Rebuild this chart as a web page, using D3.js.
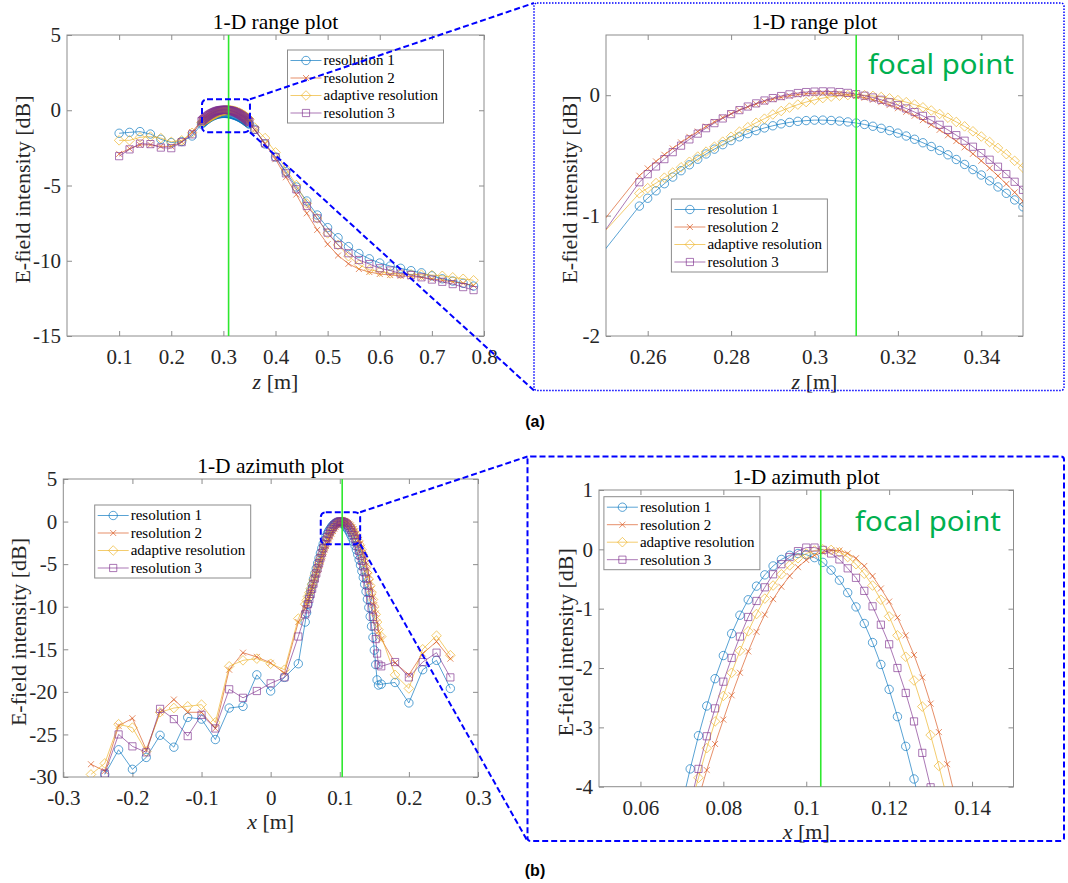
<!DOCTYPE html>
<html>
<head>
<meta charset="utf-8">
<script src="https://cdn.jsdelivr.net/npm/d3@7"></script>
<style>
  body { margin: 0; background: #fff; }
</style>
</head>
<body>
<div id="chart"></div>
<script>
const W = 1068, H = 883;

// ---- data: 1-D range plot (z in m, intensity in dB) ----
const rangeZ = [0.10,0.12,0.14,0.16,0.18,0.20,0.22,0.24,
  0.258,0.260,0.262,0.264,0.266,0.268,0.270,0.272,0.274,0.276,0.278,0.280,0.282,0.284,0.286,0.288,0.290,0.292,0.294,0.296,0.298,0.300,
  0.302,0.304,0.306,0.308,0.310,0.312,0.314,0.316,0.318,0.320,0.322,0.324,0.326,0.328,0.330,0.332,0.334,0.336,0.338,0.340,0.342,0.344,0.346,0.348,0.350,
  0.36,0.38,0.40,0.42,0.44,0.46,0.48,0.50,0.52,0.54,0.56,0.58,0.60,0.62,0.64,0.66,0.68,0.70,0.72,0.74,0.76,0.78];

const rangeRes1 = [-1.53,-1.47,-1.42,-1.58,-1.93,-2.15,-2.08,-1.71,
  -0.921,-0.856,-0.794,-0.735,-0.680,-0.627,-0.578,-0.532,-0.488,-0.448,-0.411,-0.377,-0.346,-0.319,-0.294,-0.272,-0.254,-0.238,-0.226,-0.217,-0.211,-0.207,
  -0.207,-0.210,-0.215,-0.222,-0.231,-0.243,-0.258,-0.275,-0.294,-0.315,-0.339,-0.366,-0.395,-0.426,-0.459,-0.495,-0.534,-0.575,-0.618,-0.663,-0.711,-0.762,-0.815,-0.870,-0.927,
  -1.27,-2.24,-3.1,-4.08,-5.1,-6.03,-6.96,-7.8,-8.47,-9.06,-9.52,-9.87,-10.15,-10.35,-10.5,-10.66,-10.8,-11.0,-11.2,-11.35,-11.5,-11.68];

const rangeRes2 = [-2.9,-2.55,-2.3,-2.3,-2.4,-2.4,-2.1,-1.45,
  -0.669,-0.608,-0.550,-0.495,-0.442,-0.392,-0.346,-0.302,-0.260,-0.222,-0.186,-0.154,-0.124,-0.097,-0.073,-0.052,-0.033,-0.018,-0.005,0.005,0.012,0.017,
  0.018,0.016,0.012,0.004,-0.007,-0.021,-0.038,-0.058,-0.082,-0.108,-0.138,-0.171,-0.207,-0.246,-0.288,-0.333,-0.381,-0.433,-0.487,-0.545,-0.606,-0.670,-0.737,-0.807,-0.881,
  -1.3,-2.25,-3.25,-4.45,-5.6,-6.85,-7.95,-8.9,-9.65,-10.2,-10.55,-10.75,-10.88,-10.95,-11.0,-11.05,-11.1,-11.2,-11.3,-11.4,-11.5,-11.65];

const rangeAdaptive = [-2.0,-2.0,-1.8,-1.75,-1.85,-2.1,-2.0,-1.5,
  -0.815,-0.772,-0.730,-0.685,-0.643,-0.599,-0.553,-0.510,-0.469,-0.428,-0.386,-0.345,-0.303,-0.266,-0.229,-0.195,-0.160,-0.131,-0.103,-0.078,-0.057,-0.039,
  -0.024,-0.012,-0.004,0.001,0.003,0.000,-0.006,-0.015,-0.026,-0.041,-0.058,-0.078,-0.101,-0.127,-0.156,-0.187,-0.222,-0.259,-0.300,-0.343,-0.389,-0.438,-0.490,-0.545,-0.602,
  -1.15,-1.85,-2.8,-3.9,-4.97,-6.19,-7.18,-8.18,-8.95,-9.7,-10.25,-10.6,-10.72,-10.84,-10.88,-10.9,-10.93,-10.95,-11.0,-11.1,-11.2,-11.3];

const rangeRes3 = [-3.05,-2.6,-2.22,-2.25,-2.48,-2.52,-2.12,-1.6,
  -0.723,-0.656,-0.592,-0.531,-0.473,-0.419,-0.367,-0.319,-0.274,-0.232,-0.193,-0.157,-0.124,-0.094,-0.068,-0.044,-0.024,-0.007,0.007,0.018,0.026,0.030,
  0.032,0.031,0.026,0.019,0.009,-0.004,-0.019,-0.038,-0.059,-0.083,-0.110,-0.140,-0.172,-0.208,-0.246,-0.288,-0.332,-0.378,-0.428,-0.481,-0.536,-0.594,-0.655,-0.719,-0.786,
  -1.3,-2.2,-3.12,-4.19,-5.25,-6.36,-7.18,-8.13,-8.95,-9.5,-9.95,-10.22,-10.5,-10.65,-10.85,-10.95,-11.1,-11.25,-11.4,-11.55,-11.75,-11.95];

// ---- data: 1-D azimuth plot (x in m, intensity in dB) ----
const azimX = [-0.26,-0.24,-0.22,-0.20,-0.18,-0.16,-0.14,-0.12,-0.10,-0.08,-0.06,-0.04,-0.02,0,0.02,0.04,
  0.050,0.052,0.054,0.056,0.058,0.060,0.062,0.064,0.066,0.068,0.070,0.072,0.074,0.076,0.078,0.080,0.082,0.084,0.086,0.088,0.090,0.092,0.094,0.096,0.098,0.100,0.102,
  0.104,0.106,0.108,0.110,0.112,0.114,0.116,0.118,0.120,0.122,0.124,0.126,0.128,0.130,0.132,0.134,0.136,0.138,0.140,0.142,0.144,0.146,0.148,0.150,0.152,0.154,0.156,
  0.16,0.18,0.20,0.22,0.24,0.26];

const azimRes1 = [null,-29.7,-26.8,-29.1,-27.7,-25.1,-26.5,-23.0,-23.2,-25.6,-21.9,-21.7,-18.0,-19.9,-18.3,-16.7,
  -11.8,-10.7,-9.7,-8.85,-8.1,-7.4,-6.75,-6.1,-5.5,-4.9,-4.3,-3.70,-3.14,-2.64,-2.18,-1.79,-1.42,-1.11,-0.85,-0.62,-0.43,-0.28,-0.17,-0.10,-0.07,-0.09,-0.14,
  -0.22,-0.35,-0.52,-0.73,-0.97,-1.25,-1.57,-1.94,-2.36,-2.82,-3.32,-3.87,-4.47,-5.12,-5.82,-6.57,-7.37,-8.22,-9.12,-10.1,-11.15,-12.3,-13.6,-15.1,-16.8,-18.6,-19.2,
  -19.1,-18.9,-21.3,-17.4,-16.3,-19.6];

const azimRes2 = [-28.5,-29.3,-24.0,-23.1,-26.8,-22.4,-20.9,-22.4,-22.4,-24.3,-17.4,-15.4,-15.9,-16.6,-17.8,-11.8,
  -10.2,-9.7,-9.2,-8.7,-8.2,-7.7,-7.2,-6.7,-6.2,-5.7,-5.2,-4.7,-4.2,-3.72,-3.28,-2.87,-2.46,-2.08,-1.72,-1.39,-1.10,-0.84,-0.63,-0.45,-0.30,-0.18,-0.10,
  -0.05,-0.02,-0.02,-0.07,-0.15,-0.28,-0.45,-0.66,-0.88,-1.15,-1.45,-1.78,-2.16,-2.60,-3.08,-3.62,-4.2,-4.85,-5.55,-6.3,-7.1,-7.95,-8.85,-9.8,-10.8,-11.85,-12.9,
  -13.8,-16.6,-18.0,-15.5,-14.1,-16.1];

const azimAdaptive = [-29.7,-28.4,-23.8,-24.2,-27.0,-22.4,-21.9,-21.7,-21.5,-23.6,-17.0,-16.3,-16.1,-16.7,-17.4,-11.4,
  -9.7,-9.25,-8.8,-8.35,-7.85,-7.35,-6.85,-6.35,-5.85,-5.35,-4.85,-4.35,-3.85,-3.35,-2.90,-2.47,-2.08,-1.71,-1.38,-1.09,-0.83,-0.61,-0.42,-0.27,-0.15,-0.07,-0.02,
  0.00,-0.01,-0.05,-0.13,-0.25,-0.41,-0.61,-0.85,-1.13,-1.45,-1.81,-2.21,-2.65,-3.13,-3.65,-4.2,-4.78,-5.4,-6.05,-6.75,-7.5,-8.3,-9.15,-10.0,-10.9,-11.8,-12.7,
  -13.5,-18.0,-19.6,-15.0,-13.4,-15.7];

const azimRes3 = [null,-29.6,-25.0,-26.4,-27.1,-22.0,-23.2,-25.2,-22.7,-24.3,-19.7,-20.7,-19.9,-19.0,-18.3,-13.5,
  -10.9,-10.3,-9.7,-9.1,-8.5,-7.9,-7.3,-6.7,-6.1,-5.5,-4.9,-4.3,-3.70,-3.15,-2.68,-2.23,-1.83,-1.47,-1.14,-0.87,-0.64,-0.42,-0.25,-0.13,-0.03,0.03,0.03,
  -0.01,-0.07,-0.17,-0.32,-0.48,-0.70,-0.96,-1.27,-1.60,-2.00,-2.42,-2.90,-3.43,-4.01,-4.62,-5.27,-5.96,-6.7,-7.5,-8.35,-9.25,-10.2,-11.2,-12.3,-13.8,-15.5,-16.8,
  -17.0,-16.5,-18.3,-16.5,-15.4,-18.3];

const seriesNames = ["resolution 1", "resolution 2", "adaptive resolution", "resolution 3"];
const seriesColors = ["#0072BD", "#D95319", "#EDB120", "#7E2F8E"];
const seriesMarkers = ["circle", "x", "diamond", "square"];

// tick labels
const rangeTicksX = [0.1,0.2,0.3,0.4,0.5,0.6,0.7,0.8];
const rangeTicksY = [-15,-10,-5,0,5];
const rangeZoomTicksX = [0.26,0.28,0.3,0.32,0.34];
const rangeZoomTicksY = [-2,-1,0];
const azimTicksX = [-0.3,-0.2,-0.1,0,0.1,0.2,0.3];
const azimTicksY = [-30,-25,-20,-15,-10,-5,0,5];
const azimZoomTicksX = [0.06,0.08,0.1,0.12,0.14];
const azimZoomTicksY = [-4,-3,-2,-1,0,1];

const rangeFocal = 0.31;
const azimFocal = 0.1035;

const serif = "'Liberation Serif', 'Times New Roman', serif";
const boxColor = "#8c8c8c";
const textColor = "#262626";
const blue = "#0000ff";

const svg = d3.select("#chart").append("svg")
  .attr("width", W).attr("height", H)
  .style("display", "block")
  .style("background", "#fff");

// marker path centred on (x, y)
function markerPath(type, x, y) {
  if (type === "circle") {
    const r = 4.2;
    return `M${x - r},${y}a${r},${r} 0 1,0 ${2 * r},0a${r},${r} 0 1,0 ${-2 * r},0Z`;
  }
  if (type === "x") {
    const s = 3;
    return `M${x - s},${y - s}L${x + s},${y + s}M${x - s},${y + s}L${x + s},${y - s}`;
  }
  if (type === "diamond") {
    const s = 4.8;
    return `M${x},${y - s}L${x + s},${y}L${x},${y + s}L${x - s},${y}Z`;
  }
  const s = 3.6;
  return `M${x - s},${y - s}h${2 * s}v${2 * s}h${-2 * s}Z`;
}

function styleAxis(sel) {
  sel.attr("font-family", null).attr("font-size", null)
    .style("font-family", serif).style("font-size", "21px");
  sel.select(".domain").remove();
  sel.selectAll(".tick line").attr("stroke", boxColor);
  sel.selectAll("text")
    .attr("fill", textColor)
    .style("font-family", serif)
    .style("font-size", "21px");
}

function drawPanel(p) {
  const x = d3.scaleLinear().domain(p.xDomain).range([p.left, p.right]);
  const y = d3.scaleLinear().domain(p.yDomain).range([p.bottom, p.top]);
  const g = svg.append("g");

  g.append("clipPath").attr("id", "clip-" + p.id)
    .append("rect")
    .attr("x", p.left).attr("y", p.top)
    .attr("width", p.right - p.left).attr("height", p.bottom - p.top);

  // axes, ticks pointing inward on all four sides
  g.append("g").attr("transform", `translate(0,${p.bottom})`)
    .call(d3.axisBottom(x).tickValues(p.xTicks).tickSize(-5).tickPadding(13).tickFormat(d => String(d)))
    .call(styleAxis);
  g.append("g").attr("transform", `translate(0,${p.top})`)
    .call(d3.axisTop(x).tickValues(p.xTicks).tickSize(-5).tickFormat(""))
    .call(styleAxis);
  g.append("g").attr("transform", `translate(${p.left},0)`)
    .call(d3.axisLeft(y).tickValues(p.yTicks).tickSize(-5).tickPadding(6).tickFormat(d => String(d)))
    .call(styleAxis);
  g.append("g").attr("transform", `translate(${p.right},0)`)
    .call(d3.axisRight(y).tickValues(p.yTicks).tickSize(-5).tickFormat(""))
    .call(styleAxis);

  g.append("rect")
    .attr("x", p.left).attr("y", p.top)
    .attr("width", p.right - p.left).attr("height", p.bottom - p.top)
    .attr("fill", "none").attr("stroke", boxColor).attr("stroke-width", 1);

  // data
  const plot = g.append("g").attr("clip-path", `url(#clip-${p.id})`);
  const line = d3.line().x(d => x(d[0])).y(d => y(d[1]));
  p.series.forEach((vals, si) => {
    const pts = p.xs.map((v, i) => [v, vals[i]]).filter(d => d[1] !== null);
    const col = seriesColors[si];
    plot.append("path")
      .attr("d", line(pts))
      .attr("fill", "none")
      .attr("stroke", col).attr("stroke-opacity", 0.65)
      .attr("stroke-width", 1);
    plot.append("path")
      .attr("d", pts.map(d => markerPath(seriesMarkers[si], x(d[0]), y(d[1]))).join(""))
      .attr("fill", "none")
      .attr("stroke", col).attr("stroke-opacity", 0.65)
      .attr("stroke-width", 1);
  });

  // focal line
  plot.append("line")
    .attr("x1", x(p.focal)).attr("x2", x(p.focal))
    .attr("y1", p.top).attr("y2", p.bottom)
    .attr("stroke", "#2ee82e").attr("stroke-width", 1.6);

  // title and labels
  g.append("text")
    .attr("x", (p.left + p.right) / 2).attr("y", p.top - 14)
    .attr("dy", "0.35em")
    .attr("text-anchor", "middle")
    .style("font-family", serif).style("font-size", "21.5px").attr("fill", "#000")
    .text(p.title);

  const xl = g.append("text")
    .attr("x", (p.left + p.right) / 2).attr("y", p.xLabelY)
    .attr("dy", "0.35em")
    .attr("text-anchor", "middle")
    .style("font-family", serif).style("font-size", "22px").attr("fill", textColor);
  xl.append("tspan").attr("font-style", "italic").text(p.xLabel);
  xl.append("tspan").text(" [m]");

  g.append("text")
    .attr("transform", `translate(${p.yLabelX},${(p.top + p.bottom) / 2 + 4}) rotate(-90)`)
    .attr("dy", "0.35em")
    .attr("text-anchor", "middle")
    .style("font-family", serif).style("font-size", "22px").attr("fill", textColor)
    .text("E-field intensity [dB]");

  // legend
  const lg = g.append("g").attr("transform", `translate(${p.legend[0]},${p.legend[1]})`);
  lg.append("rect")
    .attr("width", 156).attr("height", 73)
    .attr("fill", "#fff").attr("stroke", boxColor).attr("stroke-width", 1);
  seriesNames.forEach((name, i) => {
    const ry = 10.5 + i * 17.5;
    lg.append("line")
      .attr("x1", 3).attr("x2", 34).attr("y1", ry).attr("y2", ry)
      .attr("stroke", seriesColors[i]).attr("stroke-opacity", 0.65);
    lg.append("path")
      .attr("d", markerPath(seriesMarkers[i], 18.5, ry))
      .attr("fill", "none")
      .attr("stroke", seriesColors[i]).attr("stroke-opacity", 0.65);
    lg.append("text")
      .attr("x", 36).attr("y", ry).attr("dy", "0.33em")
      .style("font-family", serif).style("font-size", "15px").attr("fill", "#000")
      .text(name);
  });

  if (p.focalText) {
    g.append("text")
      .attr("x", p.focalText[0]).attr("y", p.focalText[1])
      .style("font-family", "'Noto Sans', sans-serif").style("font-size", "28px")
      .attr("fill", "#00b050")
      .attr("textLength", 146).attr("lengthAdjust", "spacingAndGlyphs")
      .text("focal point");
  }

  return { x, y };
}

const rangeMain = drawPanel({
  id: "range", left: 67, right: 484, top: 35, bottom: 336,
  xDomain: [0, 0.8], yDomain: [-15, 5], xTicks: rangeTicksX, yTicks: rangeTicksY,
  xs: rangeZ, series: [rangeRes1, rangeRes2, rangeAdaptive, rangeRes3],
  focal: rangeFocal, title: "1-D range plot", xLabel: "z", xLabelY: 381, yLabelX: 22,
  legend: [287.5, 50]
});

drawPanel({
  id: "rangeZoom", left: 606, right: 1023, top: 35, bottom: 336,
  xDomain: [0.25, 0.35], yDomain: [-2, 0.5], xTicks: rangeZoomTicksX, yTicks: rangeZoomTicksY,
  xs: rangeZ, series: [rangeRes1, rangeRes2, rangeAdaptive, rangeRes3],
  focal: rangeFocal, title: "1-D range plot", xLabel: "z", xLabelY: 381, yLabelX: 569.5,
  legend: [671.4, 199], focalText: [868, 74]
});

const azimMain = drawPanel({
  id: "azim", left: 63.3, right: 478, top: 479, bottom: 777,
  xDomain: [-0.3, 0.3], yDomain: [-30, 5], xTicks: azimTicksX, yTicks: azimTicksY,
  xs: azimX, series: [azimRes1, azimRes2, azimAdaptive, azimRes3],
  focal: azimFocal, title: "1-D azimuth plot", xLabel: "x", xLabelY: 821.7, yLabelX: 18,
  legend: [94.7, 505]
});

drawPanel({
  id: "azimZoom", left: 599, right: 1013.5, top: 490, bottom: 786.7,
  xDomain: [0.05, 0.15], yDomain: [-4, 1], xTicks: azimZoomTicksX, yTicks: azimZoomTicksY,
  xs: azimX, series: [azimRes1, azimRes2, azimAdaptive, azimRes3],
  focal: azimFocal, title: "1-D azimuth plot", xLabel: "x", xLabelY: 831.7, yLabelX: 565,
  legend: [603.9, 496.7], focalText: [855, 531]
});

// zoom boxes, frames and connector lines
function zoomBox(sc, xr, yr, frame, dash) {
  const x0 = sc.x(xr[0]), x1 = sc.x(xr[1]);
  const y0 = sc.y(yr[1]), y1 = sc.y(yr[0]);
  svg.append("rect")
    .attr("x", frame.x).attr("y", frame.y).attr("width", frame.w).attr("height", frame.h)
    .attr("rx", 3)
    .attr("fill", "none").attr("stroke", blue)
    .attr("stroke-width", frame.sw).attr("stroke-dasharray", frame.dash);
  svg.append("rect")
    .attr("x", x0).attr("y", y0).attr("width", x1 - x0).attr("height", y1 - y0)
    .attr("rx", 5)
    .attr("fill", "none").attr("stroke", blue)
    .attr("stroke-width", 2).attr("stroke-dasharray", dash);
  svg.append("line")
    .attr("x1", x1).attr("y1", y0).attr("x2", frame.x).attr("y2", frame.y)
    .attr("stroke", blue).attr("stroke-width", 2).attr("stroke-dasharray", dash);
  svg.append("line")
    .attr("x1", x1).attr("y1", y1).attr("x2", frame.x).attr("y2", frame.y + frame.h)
    .attr("stroke", blue).attr("stroke-width", 2).attr("stroke-dasharray", dash);
}

zoomBox(rangeMain, [0.259, 0.351], [-1.46, 0.73],
  { x: 534, y: 3, w: 530, h: 387.5, sw: 1.5, dash: "1.5,1.5" }, "6,3");
zoomBox(azimMain, [0.0725, 0.1295], [-2.65, 1.1],
  { x: 527.5, y: 456.5, w: 536.5, h: 384.5, sw: 2, dash: "6,3" }, "6,3");

// sub-figure labels
[["(a)", 421], ["(b)", 870]].forEach(([t, yy]) => {
  svg.append("text")
    .attr("x", 535).attr("y", yy).attr("dy", "0.35em")
    .attr("text-anchor", "middle")
    .style("font-family", "'Liberation Sans', Arial, sans-serif")
    .style("font-weight", "bold").style("font-size", "16px").attr("fill", "#000")
    .text(t);
});
</script>
</body>
</html>
